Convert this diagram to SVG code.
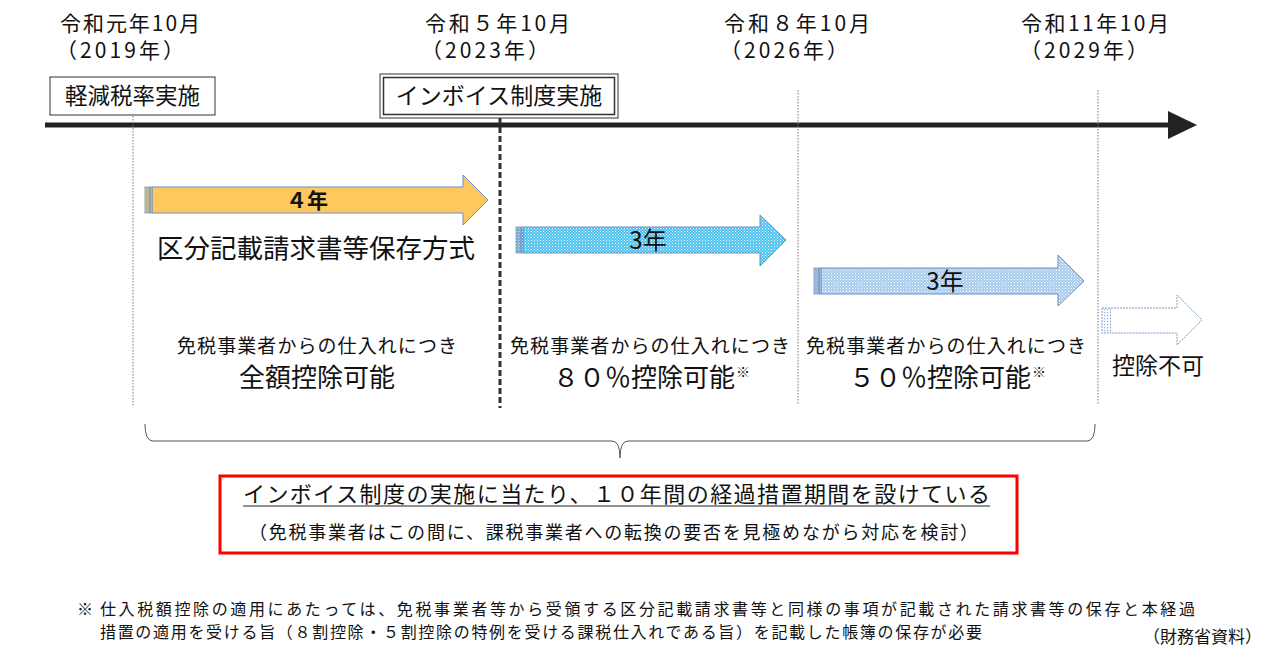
<svg xmlns="http://www.w3.org/2000/svg" width="1270" height="654" viewBox="0 0 1270 654">
<defs>
<pattern id="dotBlue" width="3" height="3" patternUnits="userSpaceOnUse">
<rect width="3" height="3" fill="#4FC3F0"/>
<rect x="0" y="0" width="1" height="1" fill="#FFFFFF"/>
<rect x="1.5" y="1.5" width="1" height="1" fill="#D8F2FC"/>
</pattern>
<pattern id="dotLight" width="3" height="3" patternUnits="userSpaceOnUse">
<rect width="3" height="3" fill="#A8CCEE"/>
<rect x="0" y="0" width="1" height="1" fill="#FFFFFF"/>
<rect x="1.5" y="1.5" width="1" height="1" fill="#E6F0FA"/>
</pattern>
<pattern id="dotWhite" width="3" height="3" patternUnits="userSpaceOnUse">
<rect width="3" height="3" fill="#FFFFFF"/>
<rect x="0" y="0" width="1.2" height="1.2" fill="#8FB0D8"/>
</pattern>
</defs>
<style>
text { font-family: "Noto Sans CJK JP", "Noto Sans", sans-serif; fill: #111; }
.lab { font-size: 21px; }
.vdot { stroke: #777; stroke-width: 1; stroke-dasharray: 1.5 1.5; fill: none; }
.arr { stroke: #6E8FBF; stroke-width: 1; }
.strip { stroke: #6E8FBF; stroke-width: 0.8; }
.mid { font-size: 19px; }
.big { font-size: 26px; text-anchor: middle; }
.foot { font-size: 16px; }
</style>
<rect width="1270" height="654" fill="#FFFFFF"/>

<g id="connectors">
<line x1="45" y1="125" x2="1172" y2="125" stroke="#222" stroke-width="5"/>
<polygon points="1168,111 1197,125 1168,139" fill="#222"/>
<line class="vdot" x1="133" y1="116" x2="133" y2="405"/>
<line x1="500" y1="118" x2="500" y2="408" stroke="#333" stroke-width="3" stroke-dasharray="6 3"/>
<line class="vdot" x1="798" y1="90" x2="798" y2="405"/>
<line class="vdot" x1="1098" y1="90" x2="1098" y2="405"/>
<path d="M145,424 Q145,441 153,441 H612 Q620,441 620,458 Q620,441 628,441 H1087 Q1095,441 1095,424" fill="none" stroke="#555" stroke-width="1"/>
</g>

<g id="date1">
<text class="lab" x="60" y="31" textLength="140" lengthAdjust="spacing">令和元年10月</text>
<text class="lab" x="56" y="58" textLength="128" lengthAdjust="spacing">（2019年）</text>
</g>
<g id="date2">
<text class="lab" x="425" y="31" textLength="145" lengthAdjust="spacing">令和５年10月</text>
<text class="lab" x="421" y="58" textLength="128" lengthAdjust="spacing">（2023年）</text>
</g>
<g id="date3">
<text class="lab" x="724" y="31" textLength="146" lengthAdjust="spacing">令和８年10月</text>
<text class="lab" x="720" y="58" textLength="128" lengthAdjust="spacing">（2026年）</text>
</g>
<g id="date4">
<text class="lab" x="1021" y="31" textLength="148" lengthAdjust="spacing">令和11年10月</text>
<text class="lab" x="1020" y="58" textLength="128" lengthAdjust="spacing">（2029年）</text>
</g>

<g id="box-keigen">
<rect x="50" y="77" width="165" height="38" fill="#FFFFFF" stroke="#333" stroke-width="1"/>
<text x="132.5" y="104" font-size="22.5" text-anchor="middle">軽減税率実施</text>
</g>
<g id="box-invoice">
<rect x="380" y="74" width="238" height="44" fill="#FFFFFF" stroke="#333" stroke-width="1"/>
<rect x="383.5" y="77.5" width="231" height="37" fill="none" stroke="#333" stroke-width="1.5"/>
<text x="499" y="104" font-size="23" text-anchor="middle">インボイス制度実施</text>
</g>

<g id="arrow-4y">
<path class="arr" d="M152,187 H463 V175 L488,200 L463,225 V213 H152 Z" fill="#FFC85E"/>
<rect class="strip" x="145" y="187" width="2" height="26" fill="#FFC85E"/>
<rect class="strip" x="148" y="187" width="1.5" height="26" fill="#FFC85E"/>
<rect class="strip" x="150.5" y="187" width="1.5" height="26" fill="#FFC85E"/>
<text x="307" y="208" font-size="21" font-weight="bold" text-anchor="middle">４年</text>
</g>
<g id="kubun">
<text x="316" y="258" font-size="26.5" text-anchor="middle">区分記載請求書等保存方式</text>
</g>

<g id="arrow-3y-a">
<path class="arr" d="M523,227 H760 V215 L786,240 L760,266 V253 H523 Z" fill="url(#dotBlue)"/>
<rect class="strip" x="516" y="227" width="2" height="26" fill="url(#dotBlue)"/>
<rect class="strip" x="519" y="227" width="1.5" height="26" fill="url(#dotBlue)"/>
<rect class="strip" x="521.5" y="227" width="1.5" height="26" fill="url(#dotBlue)"/>
<text x="648" y="249" font-size="24" text-anchor="middle">3年</text>
</g>

<g id="arrow-3y-b">
<path class="arr" d="M821,268 H1058 V255 L1084,281 L1058,306 V294 H821 Z" fill="url(#dotLight)"/>
<rect class="strip" x="814" y="268" width="2" height="26" fill="url(#dotLight)"/>
<rect class="strip" x="817" y="268" width="1.5" height="26" fill="url(#dotLight)"/>
<rect class="strip" x="819.5" y="268" width="1.5" height="26" fill="url(#dotLight)"/>
<text x="945" y="290" font-size="24" text-anchor="middle">3年</text>
</g>

<g id="arrow-none">
<rect x="1102" y="308" width="9" height="25" fill="url(#dotWhite)" stroke="#7C9DC8" stroke-width="1" stroke-dasharray="2 1"/>
<path d="M1111,308 H1177 V295 L1202,320 L1177,345 V333 H1111" fill="#FFFFFF" stroke="#7C9DC8" stroke-width="1" stroke-dasharray="2 1"/>
<text x="1158" y="374" font-size="23" text-anchor="middle">控除不可</text>
</g>

<g id="period1">
<text class="mid" x="177" y="353" textLength="280" lengthAdjust="spacing">免税事業者からの仕入れにつき</text>
<text class="big" x="317" y="387">全額控除可能</text>
</g>
<g id="period2">
<text class="mid" x="510" y="353" textLength="280" lengthAdjust="spacing">免税事業者からの仕入れにつき</text>
<text class="big" x="644" y="387">８０％控除可能</text>
<text x="743" y="377" font-size="14" text-anchor="middle">※</text>
</g>
<g id="period3">
<text class="mid" x="806" y="353" textLength="280" lengthAdjust="spacing">免税事業者からの仕入れにつき</text>
<text class="big" x="940" y="387">５０％控除可能</text>
<text x="1039" y="377" font-size="14" text-anchor="middle">※</text>
</g>

<g id="summary">
<rect x="220" y="476" width="797" height="77" fill="#FFFFFF" stroke="#FF0000" stroke-width="3"/>
<text x="243" y="502" font-size="22" textLength="747" lengthAdjust="spacing">インボイス制度の実施に当たり、１０年間の経過措置期間を設けている</text>
<line x1="243" y1="506" x2="990" y2="506" stroke="#222" stroke-width="1.2"/>
<text x="249" y="539" font-size="18" textLength="729" lengthAdjust="spacing">（免税事業者はこの間に、課税事業者への転換の要否を見極めながら対応を検討）</text>
</g>

<g id="footnote">
<text class="foot" x="77" y="615">※</text>
<text class="foot" x="100" y="615" textLength="1095" lengthAdjust="spacing">仕入税額控除の適用にあたっては、免税事業者等から受領する区分記載請求書等と同様の事項が記載された請求書等の保存と本経過</text>
<text class="foot" x="100" y="638" textLength="882" lengthAdjust="spacing">措置の適用を受ける旨（８割控除・５割控除の特例を受ける課税仕入れである旨）を記載した帳簿の保存が必要</text>
<text x="1262" y="643" font-size="17" text-anchor="end">（財務省資料）</text>
</g>
</svg>
